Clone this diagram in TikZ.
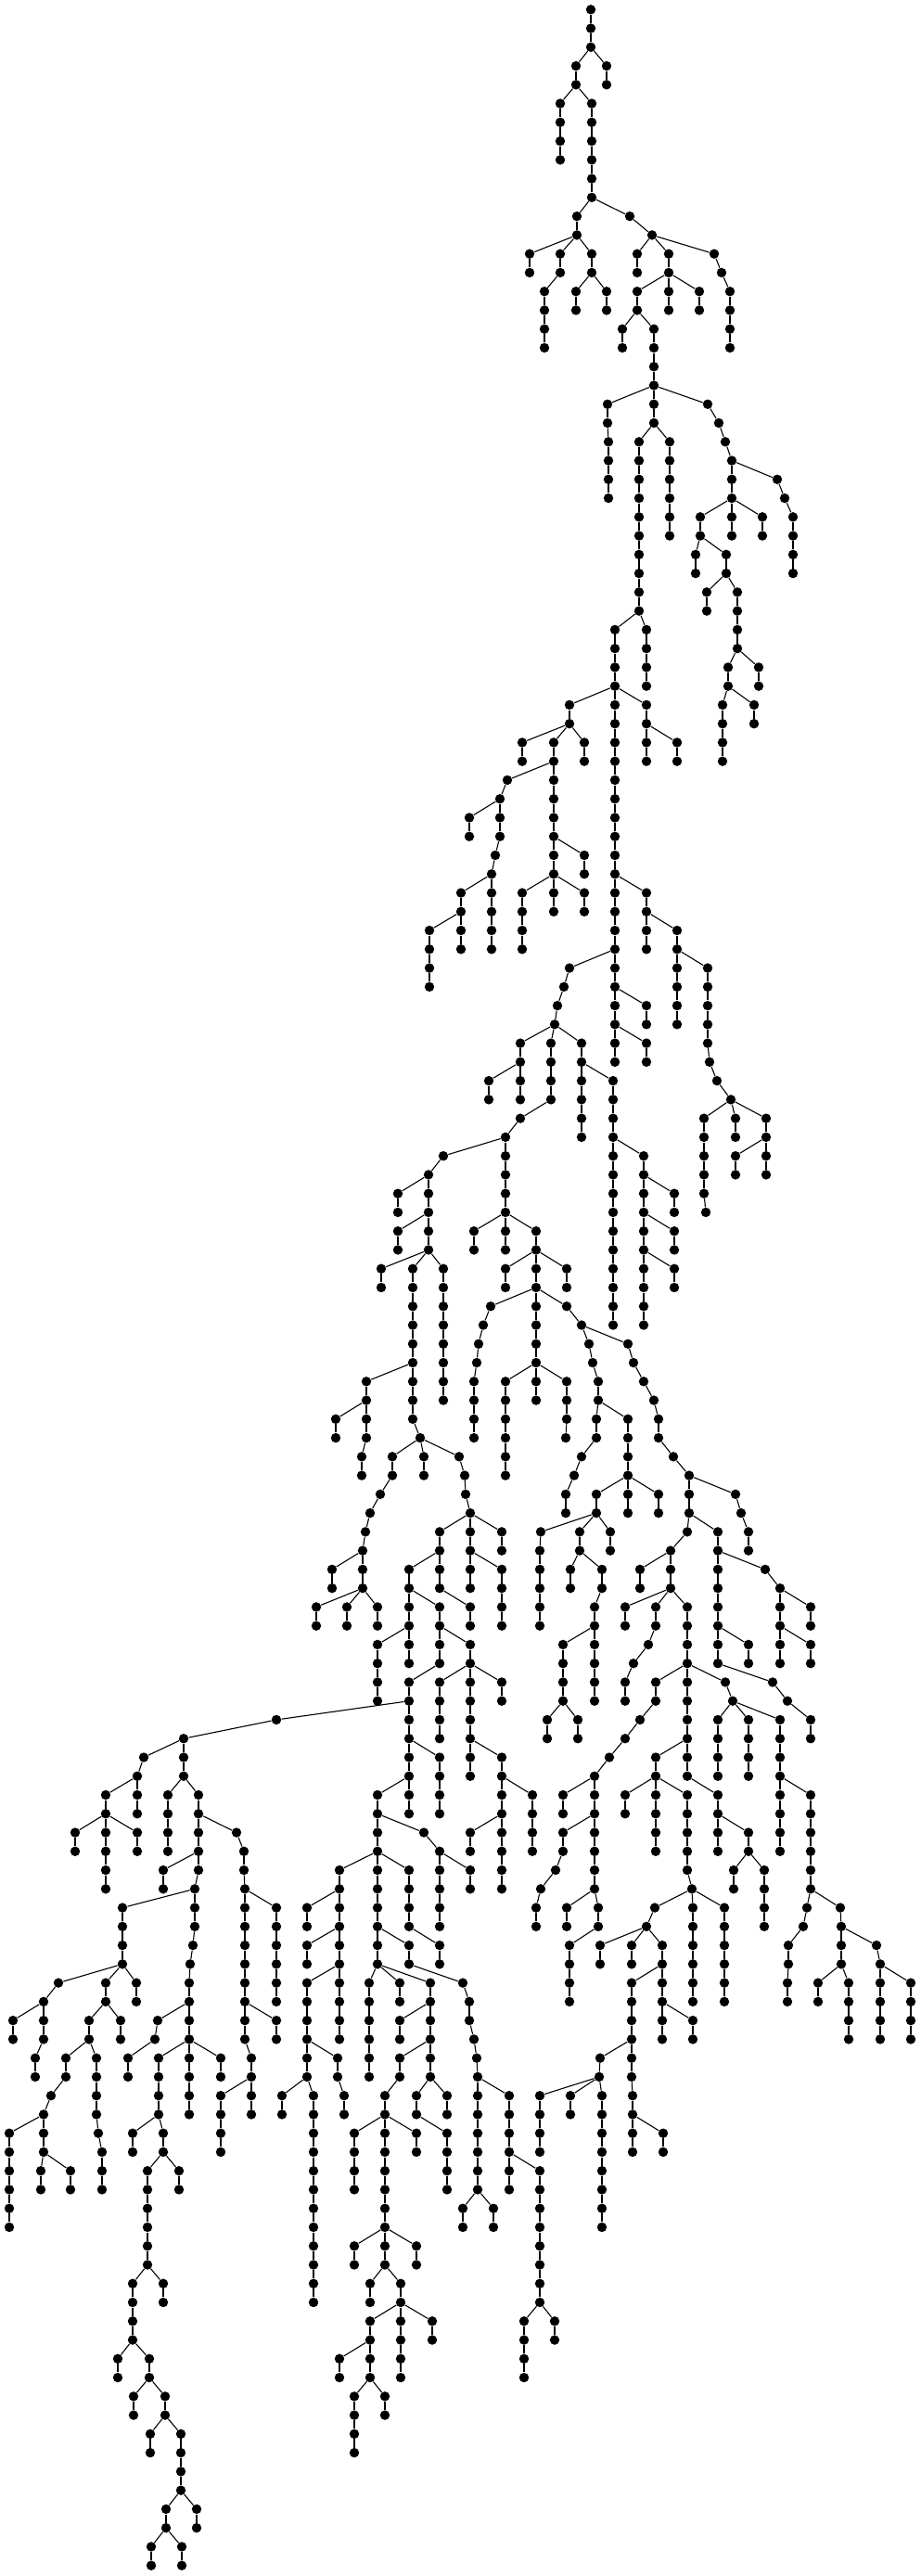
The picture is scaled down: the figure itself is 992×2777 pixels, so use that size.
\documentclass[tikz,border=0pt]{standalone}
\begin{document}
\begin{tikzpicture}[x=0.5pt,y=-0.5pt,
  dot/.style={circle,fill=black,draw=none,inner sep=0pt,minimum size=5.2pt},
  link/.style={line width=0.55pt,black}]
\useasboundingbox (0,0) rectangle (992,2777);
\node[dot] (n0-637) at (637,10.3) {};
\foreach \k/\x/\p in {
1/637/637, 2/637/637, 3/621/637, 3/654/637, 4/621/621, 4/654/654,
5/604/621, 5/638/621, 6/604/604, 6/638/638, 7/604/604, 7/638/638, 8/604/604, 8/638/638,
9/638/638, 10/638/638, 11/622/638, 11/679/638, 12/622/622, 12/703/679,
13/571/622, 13/604/622, 13/638/622, 13/687/703, 13/721/703, 13/770/703,
14/571/571, 14/604/604, 14/638/638, 14/687/687, 14/721/721, 14/778/770,
15/587/604, 15/621/638, 15/654/638, 15/687/721, 15/721/721, 15/754/721, 15/787/778,
16/587/587, 16/621/621, 16/654/654, 16/687/687, 16/721/721, 16/754/754, 16/787/787,
17/587/587, 17/671/687, 17/705/687, 17/787/787,
18/587/587, 18/671/671, 18/705/705, 18/787/787,
19/705/705, 20/705/705, 21/655/705, 21/705/705, 21/763/705,
22/655/655, 22/705/705, 22/775/763,
23/656/655, 23/689/705, 23/722/705, 23/782/775,
24/656/656, 24/689/689, 24/722/722, 24/789/782,
25/656/656, 25/689/689, 25/722/722, 25/789/789, 25/838/789,
26/656/656, 26/689/689, 26/722/722, 26/789/789, 26/846/838,
27/689/689, 27/722/722, 27/755/789, 27/789/789, 27/822/789, 27/855/846,
28/689/689, 28/722/722, 28/755/755, 28/789/789, 28/822/822, 28/855/855,
29/689/689, 29/750/755, 29/783/755, 29/855/855,
30/689/689, 30/750/750, 30/783/783, 30/855/855,
31/689/689, 31/762/783, 31/795/783,
32/689/689, 32/762/762, 32/795/795,
33/663/689, 33/697/689, 33/795/795,
34/663/663, 34/697/697, 34/795/795,
35/663/663, 35/697/697, 35/785/795, 35/818/795,
36/663/663, 36/697/697, 36/785/785, 36/818/818,
37/614/663, 37/663/663, 37/697/663, 37/779/785, 37/813/785,
38/614/614, 38/663/663, 38/697/697, 38/779/779, 38/813/813,
39/563/614, 39/597/614, 39/630/614, 39/663/663, 39/697/697, 39/730/697, 39/779/779,
40/563/563, 40/597/597, 40/630/630, 40/663/663, 40/697/697, 40/730/730, 40/779/779,
41/547/597, 41/597/597, 41/663/663,
42/539/547, 42/597/597, 42/663/663,
43/506/539, 43/539/539, 43/597/597, 43/663/663,
44/506/506, 44/539/539, 44/597/597, 44/663/663,
45/534/539, 45/597/597, 45/630/597, 45/663/663,
46/530/534, 46/597/597, 46/630/630, 46/663/663,
47/497/530, 47/530/530, 47/563/597, 47/597/597, 47/630/597, 47/663/663, 47/697/663,
48/497/497, 48/530/530, 48/563/563, 48/597/597, 48/630/630, 48/663/663, 48/697/697,
49/463/497, 49/497/497, 49/530/530, 49/563/563, 49/663/663, 49/697/697, 49/730/697,
50/463/463, 50/497/497, 50/530/530, 50/563/563, 50/663/663, 50/697/697, 50/730/730,
51/463/463, 51/614/663, 51/663/663, 51/730/730, 51/763/730,
52/463/463, 52/608/614, 52/663/663, 52/730/730, 52/763/763,
53/601/608, 53/663/663, 53/697/663, 53/730/730, 53/763/763,
54/598/601, 54/663/663, 54/697/697, 54/730/730, 54/763/763,
55/561/598, 55/594/598, 55/627/598, 55/663/663, 55/697/663, 55/763/763,
56/561/561, 56/594/594, 56/627/627, 56/663/663, 56/697/697, 56/765/763,
57/527/561, 57/561/561, 57/594/594, 57/627/627, 57/661/627, 57/773/765,
58/527/527, 58/561/561, 58/594/594, 58/627/627, 58/661/661, 58/788/773,
59/561/594, 59/627/627, 59/661/661, 59/759/788, 59/793/788, 59/826/788,
60/545/561, 60/627/627, 60/661/661, 60/759/759, 60/793/793, 60/826/826,
61/478/545, 61/545/545, 61/661/661, 61/694/661, 61/759/759, 61/793/826, 61/826/826,
62/462/478, 62/545/545, 62/661/661, 62/694/694, 62/759/759, 62/793/793, 62/826/826,
63/429/462, 63/462/462, 63/545/545, 63/661/661, 63/694/694, 63/727/694, 63/759/759,
64/429/429, 64/462/462, 64/545/545, 64/661/661, 64/694/694, 64/727/727, 64/761/759,
65/429/462, 65/462/462, 65/511/545, 65/545/545, 65/578/545, 65/661/661, 65/694/694, 65/727/694,
66/429/429, 66/462/462, 66/511/511, 66/545/545, 66/578/578, 66/661/661, 66/694/694, 66/727/727,
67/411/462, 67/445/462, 67/478/462, 67/545/578, 67/578/578, 67/611/578, 67/661/661, 67/694/694, 67/727/694,
68/411/411, 68/445/445, 68/478/478, 68/545/545, 68/578/578, 68/611/611, 68/661/661, 68/694/694, 68/727/727,
69/445/445, 69/478/478, 69/529/578, 69/578/578, 69/611/578, 69/661/661, 69/694/694,
70/445/445, 70/478/478, 70/521/529, 70/578/578, 70/627/611, 70/661/661, 70/694/694,
71/445/445, 71/478/478, 71/516/521, 71/578/578, 71/635/627, 71/677/627,
72/445/445, 72/478/478, 72/514/516, 72/578/578, 72/639/635, 72/683/677,
73/395/445, 73/445/445, 73/478/478, 73/511/514, 73/545/578, 73/578/578, 73/611/578, 73/645/639, 73/694/683,
74/395/395, 74/445/445, 74/478/478, 74/511/511, 74/545/545, 74/578/578, 74/611/611, 74/645/645, 74/705/694,
75/362/395, 75/395/395, 75/445/445, 75/511/511, 75/545/545, 75/611/611, 75/643/645, 75/677/645, 75/710/705,
76/362/362, 76/395/395, 76/453/445, 76/511/511, 76/545/545, 76/610/611, 76/643/643, 76/677/677, 76/710/710,
77/390/395, 77/423/453, 77/457/453, 77/495/453, 77/545/545, 77/627/643, 77/677/677, 77/726/710,
78/390/390, 78/423/423, 78/457/457, 78/501/495, 78/545/545, 78/619/627, 78/677/677, 78/743/726,
79/410/423, 79/502/501, 79/610/619, 79/643/677, 79/677/677, 79/710/677, 79/743/743, 79/793/743,
80/399/410, 80/507/502, 80/610/610, 80/643/643, 80/677/677, 80/710/710, 80/743/743, 80/799/793,
81/394/399, 81/474/507, 81/507/507, 81/541/507, 81/583/643, 81/625/643, 81/658/643, 81/741/743, 81/774/743, 81/807/799,
82/391/394, 82/474/474, 82/507/507, 82/541/541, 82/582/583, 82/625/625, 82/658/658, 82/723/741, 82/774/774, 82/807/807,
83/358/391, 83/391/391, 83/441/474, 83/474/474, 83/507/507, 83/541/507, 83/582/582, 83/615/625, 83/649/625, 83/690/723, 83/723/723, 83/774/774, 83/825/774,
84/358/358, 84/391/391, 84/441/441, 84/474/474, 84/507/507, 84/541/541, 84/582/582, 84/615/615, 84/649/649, 84/690/690, 84/723/723, 84/774/774, 84/841/825,
85/341/391, 85/374/391, 85/407/391, 85/441/441, 85/474/441, 85/507/474, 85/541/541, 85/582/582, 85/641/649, 85/674/723, 85/707/723, 85/741/723, 85/774/774, 85/841/841, 85/874/841,
86/341/341, 86/374/374, 86/407/407, 86/441/441, 86/474/474, 86/507/507, 86/541/541, 86/582/582, 86/641/641, 86/674/674, 86/707/707, 86/741/741, 86/774/774, 86/841/841, 86/874/874,
87/407/441, 87/441/441, 87/474/474, 87/507/474, 87/607/641, 87/641/641, 87/699/707, 87/741/741, 87/774/774, 87/807/774, 87/841/841, 87/874/841,
88/407/407, 88/441/441, 88/474/474, 88/507/507, 88/607/607, 88/641/641, 88/683/699, 88/741/741, 88/774/774, 88/807/807, 88/841/841, 88/874/874,
89/407/407, 89/441/474, 89/474/507, 89/507/507, 89/541/507, 89/607/607, 89/641/641, 89/674/683, 89/707/741, 89/741/741, 89/782/741, 89/833/774,
90/407/407, 90/441/441, 90/474/474, 90/507/507, 90/541/541, 90/607/607, 90/641/641, 90/674/674, 90/707/707, 90/741/741, 90/790/782, 90/849/833,
91/298/441, 91/441/441, 91/474/474, 91/507/507, 91/590/607, 91/623/607, 91/690/707, 91/741/741, 91/774/790, 91/807/790, 91/841/790, 91/874/849,
92/198/298, 92/441/441, 92/474/474, 92/507/507, 92/590/590, 92/623/623, 92/674/690, 92/741/741, 92/774/774, 92/807/807, 92/841/841, 92/874/874,
93/155/198, 93/198/198, 93/441/441, 93/474/441, 93/507/507, 93/541/507, 93/657/674, 93/707/741, 93/741/741, 93/774/774, 93/807/807, 93/841/841,
94/148/155, 94/198/198, 94/441/441, 94/474/474, 94/507/507, 94/541/541, 94/641/657, 94/707/707, 94/741/741, 94/774/774, 94/807/807, 94/841/841,
95/114/148, 95/148/148, 95/181/198, 95/214/198, 95/407/441, 95/441/441, 95/474/474, 95/541/541, 95/574/541, 95/607/641, 95/641/641, 95/674/707, 95/707/707, 95/741/707, 95/774/741, 95/841/841, 95/874/841,
96/114/114, 96/148/148, 96/181/181, 96/214/214, 96/407/407, 96/441/441, 96/474/474, 96/541/541, 96/574/574, 96/607/607, 96/641/641, 96/674/674, 96/707/707, 96/741/741, 96/774/774, 96/841/841, 96/874/874,
97/81/114, 97/114/114, 97/148/114, 97/181/181, 97/214/214, 97/255/214, 97/407/407, 97/457/407, 97/507/541, 97/541/541, 97/574/574, 97/607/641, 97/641/641, 97/707/707, 97/741/741, 97/774/774, 97/807/774, 97/841/841, 97/874/874,
98/81/81, 98/114/114, 98/148/148, 98/181/181, 98/214/214, 98/263/255, 98/407/407, 98/474/457, 98/507/507, 98/541/541, 98/574/574, 98/607/607, 98/641/641, 98/707/707, 98/741/741, 98/774/774, 98/807/807, 98/841/841, 98/874/874,
99/114/114, 99/176/214, 99/214/214, 99/263/263, 99/366/407, 99/407/407, 99/441/407, 99/474/474, 99/507/474, 99/541/541, 99/599/607, 99/641/641, 99/741/741, 99/791/807, 99/824/807, 99/874/874,
100/114/114, 100/176/176, 100/210/214, 100/264/263, 100/366/366, 100/407/407, 100/441/441, 100/474/474, 100/507/507, 100/541/541, 100/583/599, 100/641/641, 100/746/741, 100/791/791, 100/824/824, 100/874/874,
101/132/210, 101/210/210, 101/264/264, 101/298/264, 101/331/366, 101/366/366, 101/407/407, 101/441/441, 101/474/474, 101/578/583, 101/611/641, 101/645/641, 101/706/746, 101/747/746, 101/781/746, 101/824/824, 101/870/874, 101/906/874,
102/132/132, 102/210/210, 102/264/264, 102/298/298, 102/331/331, 102/366/366, 102/407/407, 102/441/441, 102/474/474, 102/578/578, 102/611/611, 102/645/645, 102/697/706, 102/747/747, 102/781/781, 102/824/824, 102/866/870, 102/907/906,
103/132/132, 103/208/210, 103/264/264, 103/298/298, 103/331/366, 103/366/366, 103/407/407, 103/441/407, 103/474/441, 103/614/645, 103/647/697, 103/681/697, 103/714/697, 103/747/747, 103/781/781, 103/850/866, 103/907/907, 103/945/907,
104/132/132, 104/205/208, 104/264/264, 104/298/298, 104/331/331, 104/366/366, 104/407/407, 104/441/441, 104/474/474, 104/614/614, 104/647/647, 104/681/681, 104/714/714, 104/747/747, 104/781/781, 104/850/850, 104/907/907, 104/949/945,
105/63/132, 105/114/132, 105/147/132, 105/204/205, 105/264/264, 105/298/298, 105/331/366, 105/366/366, 105/398/407, 105/431/407, 105/464/407, 105/499/441, 105/614/614, 105/681/714, 105/714/714, 105/747/747, 105/781/781, 105/849/850, 105/882/907, 105/915/907, 105/949/949, 105/982/949,
106/47/63, 106/114/114, 106/147/147, 106/204/204, 106/264/264, 106/298/298, 106/331/331, 106/366/366, 106/398/398, 106/431/431, 106/464/464, 106/506/499, 106/614/614, 106/681/681, 106/714/714, 106/747/747, 106/781/781, 106/849/849, 106/882/882, 106/915/915, 106/949/949, 106/982/982,
107/14/47, 107/47/47, 107/96/114, 107/130/114, 107/170/204, 107/204/204, 107/264/264, 107/298/264, 107/331/331, 107/366/366, 107/398/398, 107/431/464, 107/464/464, 107/506/506, 107/681/681, 107/714/714, 107/747/714, 107/915/915, 107/949/949, 107/982/982,
108/14/14, 108/47/47, 108/96/96, 108/130/130, 108/167/170, 108/204/204, 108/264/264, 108/298/298, 108/331/331, 108/366/366, 108/398/398, 108/431/431, 108/464/464, 108/511/506, 108/681/681, 108/714/714, 108/747/747, 108/915/915, 108/949/949, 108/982/982,
109/38/47, 109/71/96, 109/104/96, 109/138/167, 109/171/204, 109/204/204, 109/238/204, 109/271/264, 109/331/331, 109/364/331, 109/398/398, 109/431/464, 109/464/464, 109/514/511, 109/647/681, 109/681/681,
110/38/38, 110/71/71, 110/104/104, 110/138/138, 110/171/171, 110/204/204, 110/238/238, 110/271/271, 110/331/331, 110/364/364, 110/398/398, 110/431/431, 110/464/464, 110/515/514, 110/646/647, 110/681/681,
111/55/71, 111/104/104, 111/171/171, 111/204/204, 111/238/271, 111/271/271, 111/304/331, 111/338/331, 111/371/364, 111/415/431, 111/449/464, 111/482/464, 111/515/515, 111/549/515, 111/582/646, 111/615/646, 111/649/646, 111/682/681,
112/47/55, 112/104/104, 112/171/171, 112/204/204, 112/238/238, 112/271/271, 112/304/304, 112/338/338, 112/371/371, 112/415/415, 112/449/449, 112/482/482, 112/515/515, 112/549/549, 112/582/582, 112/615/615, 112/649/649, 112/682/682,
113/10/47, 113/47/47, 113/106/104, 113/143/171, 113/176/171, 113/238/238, 113/338/338, 113/382/415, 113/415/415, 113/449/415, 113/482/449, 113/515/515, 113/549/549, 113/582/582, 113/649/649, 113/682/682, 113/715/682,
114/10/10, 114/47/47, 114/110/106, 114/143/143, 114/176/176, 114/238/238, 114/338/338, 114/382/382, 114/415/415, 114/449/449, 114/482/482, 114/515/515, 114/549/549, 114/582/582, 114/649/649, 114/682/682, 114/715/715,
115/10/10, 115/44/47, 115/76/47, 115/110/110, 115/159/176, 115/193/176, 115/338/338, 115/382/382, 115/415/415, 115/482/482, 115/515/515, 115/549/549, 115/582/549, 115/649/649,
116/10/10, 116/44/44, 116/76/76, 116/110/110, 116/159/159, 116/193/193, 116/338/338, 116/382/382, 116/415/415, 116/482/482, 116/515/515, 116/549/549, 116/582/582, 116/649/649,
117/10/10, 117/159/159, 117/338/338, 117/415/415, 117/499/515, 117/532/515, 117/582/582, 117/649/649,
118/10/10, 118/159/159, 118/338/338, 118/415/415, 118/499/499, 118/532/532, 118/582/582, 118/649/649,
119/159/159, 119/338/338, 119/382/415, 119/415/415, 119/449/415, 119/582/582,
120/159/159, 120/338/338, 120/382/382, 120/415/415, 120/449/449, 120/582/582,
121/143/159, 121/176/159, 121/338/338, 121/399/415, 121/432/415, 121/582/582,
122/143/143, 122/176/176, 122/338/338, 122/399/399, 122/432/432, 122/582/582,
123/143/143, 123/399/432, 123/432/432, 123/466/432, 123/565/582, 123/598/582,
124/143/143, 124/399/399, 124/432/432, 124/466/466, 124/565/565, 124/598/598,
125/127/143, 125/161/143, 125/366/399, 125/399/399, 125/432/432, 125/565/565,
126/127/127, 126/161/161, 126/366/366, 126/399/399, 126/432/432, 126/565/565,
127/144/161, 127/178/161, 127/382/399, 127/415/399,
128/144/144, 128/178/178, 128/382/382, 128/415/415,
129/162/178, 129/195/178, 129/382/382,
130/162/162, 130/195/195, 130/382/382,
131/195/195, 132/195/195,
133/179/195, 133/212/195, 134/179/179, 134/212/212,
135/163/179, 135/196/179, 136/163/163, 136/196/196}
{
  \pgfmathtruncatemacro{\pk}{\k-1}
  \node[dot] (n\k-\x) at (\x,{10.3+20.26*\k}) {};
  \draw[link] (n\pk-\p) -- (n\k-\x);
}
\end{tikzpicture}
\end{document}
